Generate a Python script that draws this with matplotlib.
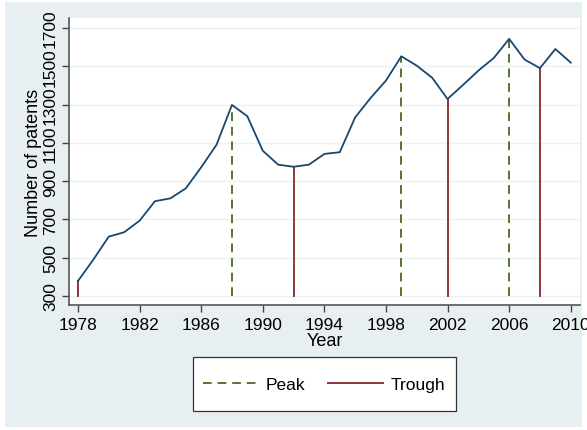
import matplotlib.pyplot as plt
from matplotlib.patches import Rectangle
from matplotlib.lines import Line2D

plt.rcParams['font.family'] = ['Liberation Sans', 'DejaVu Sans']

years = list(range(1978, 2011))
patents = [378, 490, 610, 633, 693, 795, 810, 862, 972, 1090, 1298, 1239,
           1059, 986, 975, 986, 1042, 1051, 1233, 1334, 1425, 1552, 1503,
           1440, 1329, 1402, 1477, 1543, 1643, 1535, 1490, 1590, 1519]
peak_years = [1988, 1999, 2006]
trough_years = [1978, 1992, 2002, 2008]
yticks = [300, 500, 700, 900, 1100, 1300, 1500, 1700]
xticks = [1978, 1982, 1986, 1990, 1994, 1998, 2002, 2006, 2010]

navy = '#1a476f'
green = '#55752f'
maroon = '#90353b'
bg = '#e8eff3'

fig = plt.figure(figsize=(5.87, 4.31), dpi=100)
fig.patches.append(Rectangle((5 / 587, 3 / 431), 577 / 587, 425 / 431,
                             transform=fig.transFigure, facecolor=bg,
                             edgecolor='none', zorder=-10))
ax = fig.add_axes([69 / 587, 1 - 306 / 431, 511 / 587, 287 / 431])
ax.set_facecolor('white')

lookup = dict(zip(years, patents))
for y in peak_years:
    ax.plot([y, y], [300, lookup[y]], color=green, lw=1.4, ls=(0, (4.5, 3)))
for y in trough_years:
    ax.plot([y, y], [300, lookup[y]], color=maroon, lw=1.4)
ax.plot(years, patents, color=navy, lw=1.3)

ax.set_xlim(1977.42, 2010.6)
ax.set_ylim(253, 1752)
ax.set_yticks(yticks)
ax.set_xticks(xticks)
ax.set_yticklabels([str(v) for v in yticks], rotation=90, va='center')
ax.tick_params(labelsize=12.5, color='#444444', length=5, width=1)
ax.tick_params(axis='y', pad=3)
ax.grid(axis='y', color='#eaf2f3', lw=1)
ax.set_axisbelow(True)
for s in ['top', 'right']:
    ax.spines[s].set_visible(False)
for s in ['left', 'bottom']:
    ax.spines[s].set_color('#555555')
    ax.spines[s].set_linewidth(1.2)
ax.set_xlabel('Year', fontsize=13, labelpad=0)
ax.set_ylabel('Number of patents', fontsize=13, labelpad=1)

# legend box drawn by hand so the padding matches
fig.patches.append(Rectangle((193 / 587, 1 - 412 / 431), 263 / 587, 54 / 431,
                             transform=fig.transFigure, facecolor='white',
                             edgecolor='#333333', lw=0.9, zorder=1))
handles = [Line2D([], [], color=green, lw=1.4, ls=(0, (4.5, 3))),
           Line2D([], [], color=maroon, lw=1.4)]
leg = fig.legend(handles, ['Peak', 'Trough'], loc='center',
                 bbox_to_anchor=(324 / 587, 1 - 385 / 431), ncol=2,
                 fontsize=12.5, frameon=False,
                 handlelength=3.2, handletextpad=0.4, columnspacing=1.3)
leg.set_zorder(2)

fig.savefig('out.png', dpi=100)
